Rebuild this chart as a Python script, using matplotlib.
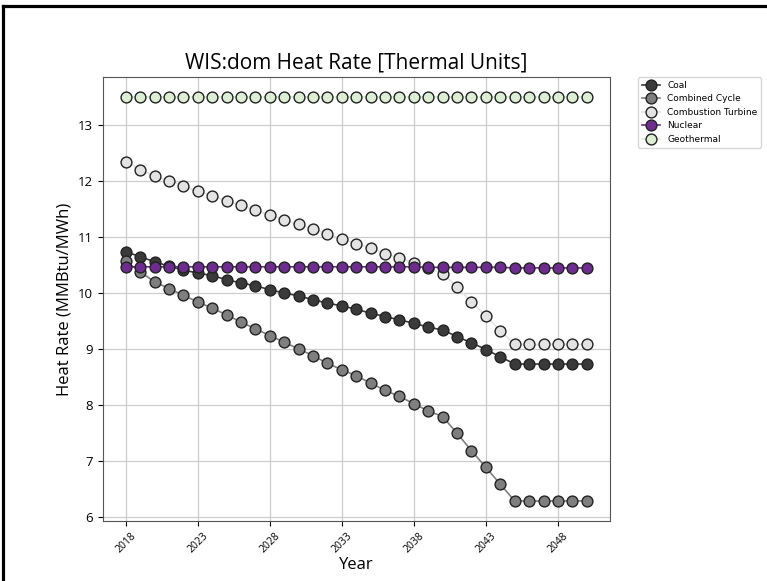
import numpy as np
import matplotlib
matplotlib.use('Agg')
import matplotlib.pyplot as plt
from matplotlib.lines import Line2D

plt.rcParams['font.family'] = ['Open Sans', 'DejaVu Sans']

years = list(range(2018, 2051))

coal = [10.74, 10.65, 10.56, 10.48, 10.41, 10.36, 10.31, 10.24, 10.18, 10.13,
        10.06, 10.00, 9.95, 9.88, 9.82, 9.77, 9.71, 9.64, 9.58, 9.52,
        9.46, 9.39, 9.34, 9.22, 9.11, 8.99, 8.86, 8.73, 8.73, 8.73,
        8.73, 8.73, 8.73]
combined_cycle = [10.57, 10.38, 10.20, 10.08, 9.96, 9.84, 9.73, 9.61, 9.48, 9.36,
                  9.24, 9.12, 9.00, 8.88, 8.74, 8.63, 8.52, 8.39, 8.26, 8.15,
                  8.02, 7.89, 7.79, 7.49, 7.18, 6.88, 6.58, 6.28, 6.28, 6.28,
                  6.28, 6.28, 6.28]
combustion_turbine = [12.35, 12.21, 12.09, 12.01, 11.92, 11.82, 11.74, 11.65, 11.57, 11.48,
                      11.40, 11.30, 11.23, 11.14, 11.06, 10.97, 10.88, 10.81, 10.70, 10.63,
                      10.54, 10.45, 10.35, 10.11, 9.84, 9.59, 9.33, 9.08, 9.08, 9.08,
                      9.08, 9.08, 9.08]
nuclear = [10.47] * 21 + [10.46] * 6 + [10.45] * 6
geothermal = [13.5] * 33

series = [
    ('Coal', coal, '#3a3a3a'),
    ('Combined Cycle', combined_cycle, '#7f7f7f'),
    ('Combustion Turbine', combustion_turbine, '#e3e3e3'),
    ('Nuclear', nuclear, '#6e2c8e'),
    ('Geothermal', geothermal, '#dcefd4'),
]

fig = plt.figure(figsize=(7.67, 5.81), dpi=100)
ax = fig.add_axes([0.134, 0.103, 0.661, 0.764])

for name, vals, col in series:
    ax.plot(years, vals, '-o', color=col, lw=1.2, markersize=7.8,
            markerfacecolor=col, markeredgecolor='#222222', markeredgewidth=1.0,
            label=name)

ax.grid(True, color='#cccccc', lw=0.9)
ax.set_axisbelow(True)
ax.set_xticks(range(2018, 2051, 5))
ax.tick_params(axis='x', labelrotation=45, labelsize=7.5)
ax.tick_params(axis='y', labelsize=9.5)
for s in ax.spines.values():
    s.set_color('#555555')

ax.set_title('WIS:dom Heat Rate [Thermal Units]', fontsize=15)
ax.set_xlabel('Year', fontsize=12, labelpad=1)
ax.set_ylabel('Heat Rate (MMBtu/MWh)', fontsize=12)

ax.legend(loc='upper left', bbox_to_anchor=(1.056, 1.0), borderaxespad=0,
          prop={'family': 'DejaVu Sans', 'size': 6.5})

# frame drawn on top and left edge only
fig.lines.append(Line2D([0.0045, 1.0], [0.990, 0.990], transform=fig.transFigure,
                        color='black', lw=2.3))
fig.lines.append(Line2D([0.0045, 0.0045], [0.0, 0.990], transform=fig.transFigure,
                        color='black', lw=2.3))

fig.savefig('out.png', dpi=100)
